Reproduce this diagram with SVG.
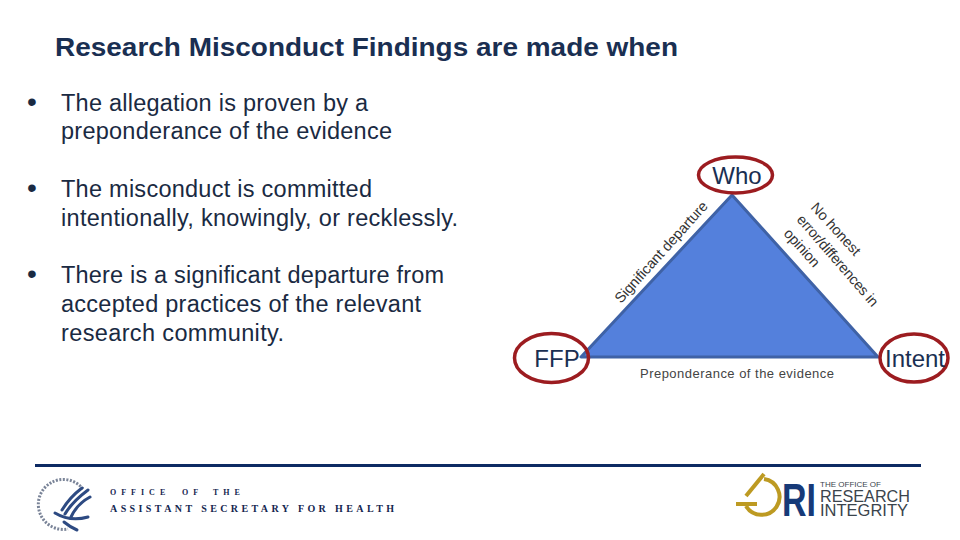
<svg xmlns="http://www.w3.org/2000/svg" width="960" height="540" viewBox="0 0 960 540">
<style>
text{font-family:"Liberation Sans",Arial,sans-serif}
.b{font-size:23.5px;fill:#1a2a42}
.p{font-size:28px;fill:#1a2a42}
.d{font-size:24px;fill:#1a2f52}
.e{font-size:14.5px;fill:#333}
.o{fill:none;stroke:#9c1c20;stroke-width:3.5}
.s{font-family:"Liberation Serif",serif;font-weight:bold;fill:#14264f}
.r{fill:#3a444c}
.g{fill:none;stroke:#bd9a22;stroke-width:4}
.w{fill:none;stroke:#2d4a82;stroke-width:3;stroke-linecap:round}
</style>
<rect width="960" height="540" fill="#fff"/>
<text x="55" y="56" font-size="26.500" font-weight="bold" fill="#1a2f52" textLength="623" lengthAdjust="spacingAndGlyphs">Research Misconduct Findings are made when</text>
<g id="bullets">
<text x="27" y="111" class="p">•</text>
<text x="61" y="111" class="b" textLength="307">The allegation is proven by a</text>
<text x="61" y="139" class="b" textLength="331">preponderance of the evidence</text>
<text x="27" y="197" class="p">•</text>
<text x="61" y="197" class="b" textLength="311">The misconduct is committed</text>
<text x="61" y="226" class="b" textLength="397">intentionally, knowingly, or recklessly.</text>
<text x="27" y="283" class="p">•</text>
<text x="61" y="283" class="b" textLength="383">There is a significant departure from</text>
<text x="61" y="312" class="b" textLength="360">accepted practices of the relevant</text>
<text x="61" y="341" class="b" textLength="223">research community.</text>
</g>
<g id="triangle"><path d="M732 195L581 357H878Z" fill="#5480dc" stroke="#3f62a6" stroke-width="3" stroke-linejoin="round"/></g>
<g id="who"><ellipse class="o" cx="735.500" cy="175" rx="37" ry="18"/><text x="737" y="184" class="d" text-anchor="middle">Who</text></g>
<g id="ffp"><ellipse class="o" cx="551.500" cy="358" rx="37" ry="24.500"/><text x="557" y="367" class="d" text-anchor="middle">FFP</text></g>
<g id="intent"><ellipse class="o" cx="914" cy="358" rx="34" ry="24"/><text x="915" y="367" class="d" text-anchor="middle" textLength="60">Intent</text></g>
<g id="edge-labels">
<text class="e" transform="translate(621 304) rotate(-48)" textLength="131">Significant departure</text>
<text class="e" transform="translate(810 208) rotate(47.500)" textLength="66">No honest</text>
<text class="e" transform="translate(796 220) rotate(49)" textLength="116">error/differences in</text>
<text class="e" transform="translate(783 234) rotate(48)" textLength="46">opinion</text>
<text x="640" y="378" font-size="13" fill="#444" textLength="194">Preponderance of the evidence</text>
</g>
<rect id="rule" x="35" y="464" width="886" height="3" fill="#0d2a63"/>
<g id="hhs">
<path d="M83 489A25 25 0 1 0 68 529" fill="none" stroke="#7a8498" stroke-width="3" stroke-dasharray="2 1.500"/>
<path class="w" d="M82 488Q70 497 62 510"/>
<path class="w" d="M88 490Q72 502 65 514"/>
<path class="w" d="M90 497Q77 504 71 517"/>
<path class="w" d="M55 513Q70 522 88 517"/>
<path class="w" d="M64 522Q70 527 77 530"/>
<text class="s" font-size="8" y="495"><tspan x="110" letter-spacing="5">OFFICE</tspan><tspan x="182" letter-spacing="5">OF</tspan><tspan x="213" letter-spacing="5">THE</tspan></text>
<text x="110" y="512" class="s" font-size="10" textLength="284">ASSISTANT SECRETARY FOR HEALTH</text>
</g>
<g id="ori">
<path class="g" d="M764 479A18 18 0 1 1 746 506"/>
<path class="g" d="M746 496L764 474"/>
<path class="g" d="M736 504H757"/>
<text x="782" y="516" font-size="47" font-weight="bold" fill="#173a78" textLength="34" lengthAdjust="spacingAndGlyphs">RI</text>
<text x="820" y="487" font-size="8" class="r" textLength="61" lengthAdjust="spacingAndGlyphs">THE OFFICE OF</text>
<text x="820" y="502" font-size="16.500" class="r" textLength="90" lengthAdjust="spacingAndGlyphs">RESEARCH</text>
<text x="820" y="516" font-size="16" class="r" textLength="88" lengthAdjust="spacingAndGlyphs">INTEGRITY</text>
</g>
</svg>
